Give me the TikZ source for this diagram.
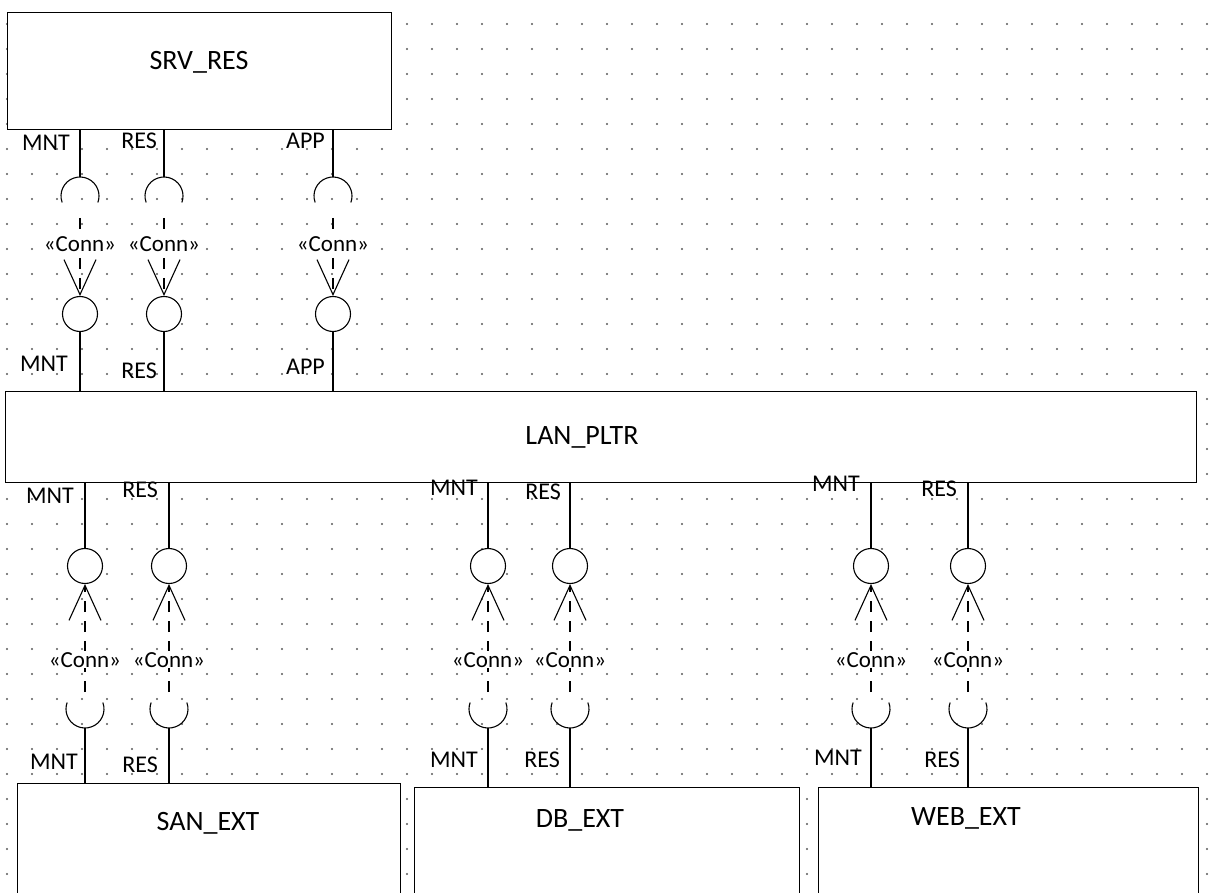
\documentclass[tikz,border=0pt]{standalone}
\usepackage{fontspec}
\setmainfont{Carlito}
\usetikzlibrary{arrows.meta}
\begin{document}
\begin{tikzpicture}[x=1pt,y=-1pt,
  comp/.style={draw, fill=white, line width=1.1pt, inner sep=0pt, anchor=north west},
  title/.style={font=\fontsize{28}{30}\selectfont, inner sep=0pt},
  lbl/.style={font=\fontsize{24}{25}\selectfont, inner sep=0pt, anchor=east},
  conn/.style={font=\fontsize{23}{24}\selectfont, fill=white, inner sep=1pt},
  lol/.style={circle, draw, line width=1.1pt, fill=white, minimum size=35pt, inner sep=0pt},
  wire/.style={line width=1.1pt},
  dep/.style={line width=1.1pt, dash pattern=on 11pt off 9pt,
    -{Straight Barb[length=35pt,width=32pt,line width=1.1pt]}},
  dotc/.style={fill=black!65}]
\useasboundingbox (0,0) rectangle (1210,893);
\fill[white] (0,0) rectangle (1210,893);
% dot grid
\foreach \i in {0,...,48}{\foreach \j in {0,...,34}{\fill[dotc] (7+25*\i,24+25*\j) circle[radius=1.15];}}
% components
\node[comp, minimum width=384pt, minimum height=117pt] (srv) at (7,12) {};
\node[title] (srvT) at (199,62) {SRV\_RES};
\node[comp, minimum width=1191pt, minimum height=91pt] (lan) at (5,391) {};
\node[title] (lanT) at (582,437) {LAN\_PLTR};
\node[comp, minimum width=383pt, minimum height=110pt] (san) at (17,783) {};
\node[title] (sanT) at (208,823) {SAN\_EXT};
\node[comp, minimum width=385pt, minimum height=106pt] (db) at (414,787) {};
\node[title] (dbT) at (580,820) {DB\_EXT};
\node[comp, minimum width=380pt, minimum height=106pt] (web) at (818,787) {};
\node[title] (webT) at (966,818) {WEB\_EXT};
% top assembly connectors
\foreach \n/\X in {tm/80, tr/164, ta/333}{
  \coordinate (\n C) at (\X,196);
  \coordinate (\n S) at (\X,177);
  \coordinate (\n D) at (\X,218);
  \node[lol] (\n L) at (\X,314) {};
  \draw[wire] (srv.south -| \n S) -- (\n S);
  \draw[wire] ([shift={(160:19)}]\n C) arc[start angle=160,end angle=380,radius=19];
  \draw[dep] (\n D) -- node[conn,pos=0.34]{«Conn»} (\n L);
  \draw[wire] (\n L) -- (\n L |- lan.north);
}
% bottom assembly connectors
\foreach \n/\X/\B in {lm/85/san, lr/169/san, mm/488/db, mr/570/db, rm/871/web, rr/968/web}{
  \node[lol] (\n L) at (\X,566) {};
  \coordinate (\n C) at (\X,709);
  \coordinate (\n S) at (\X,728);
  \coordinate (\n D) at (\X,692);
  \draw[wire] (\n L |- lan.south) -- (\n L);
  \draw[dep] (\n D) -- node[conn,pos=0.3]{«Conn»} (\n L);
  \draw[wire] ([shift={(-20:19)}]\n C) arc[start angle=-20,end angle=200,radius=19];
  \draw[wire] (\n S) -- (\n S |- \B.north);
}
% port labels
\node[lbl] (l1) at (70,143) {MNT};
\node[lbl] (l2) at (157,141) {RES};
\node[lbl] (l3) at (325,141) {APP};
\node[lbl] (l4) at (68,364) {MNT};
\node[lbl] (l5) at (157,371) {RES};
\node[lbl] (l6) at (325,367) {APP};
\node[lbl] (l7) at (74,496) {MNT};
\node[lbl] (l8) at (158,490) {RES};
\node[lbl] (l9) at (478,488) {MNT};
\node[lbl] (l10) at (561,492) {RES};
\node[lbl] (l11) at (860,484) {MNT};
\node[lbl] (l12) at (957,489) {RES};
\node[lbl] (l13) at (78,762) {MNT};
\node[lbl] (l14) at (158,765) {RES};
\node[lbl] (l15) at (478,760) {MNT};
\node[lbl] (l16) at (560,760) {RES};
\node[lbl] (l17) at (862,758) {MNT};
\node[lbl] (l18) at (960,760) {RES};
\end{tikzpicture}
\end{document}
